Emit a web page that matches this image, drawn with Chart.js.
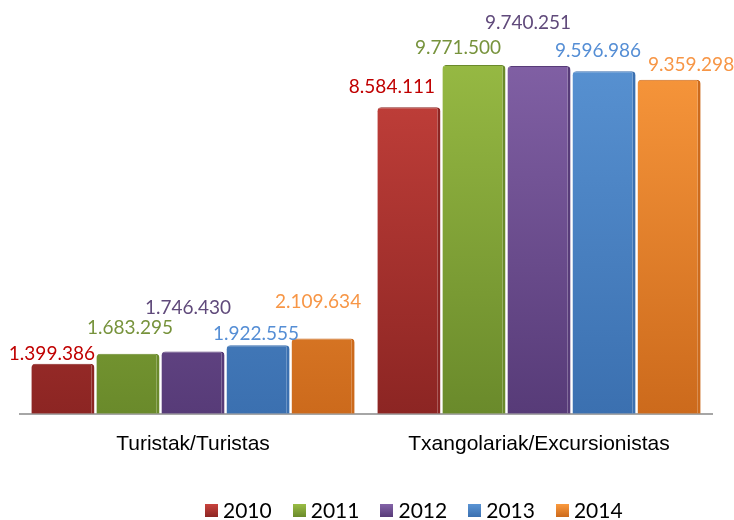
<!DOCTYPE html>
<html>
<head>
<meta charset="utf-8">
<script src="https://cdn.jsdelivr.net/npm/chart.js@4.4.1/dist/chart.umd.min.js"></script>
<style>
  html, body { margin: 0; padding: 0; background: #fff; }
  #wrap { position: relative; width: 734px; height: 520px; overflow: hidden; }
  #legend {
    position: absolute; left: 205px; top: 497px;
    font-family: Lato, "Liberation Sans", sans-serif; font-size: 21px; color: #000;
    display: flex; gap: 21px; align-items: center; line-height: 26px;
  }
  #legend span.item { display: flex; align-items: center; }
  #legend span.box { width: 13px; height: 13px; margin-right: 5px; display: inline-block; }
</style>
</head>
<body>
<div id="wrap">
  <canvas id="chart" width="734" height="520"></canvas>
  <div id="legend"></div>
</div>
<script>
// Data
// ====
const categories = ['Turistak/Turistas', 'Txangolariak/Excursionistas'];
const years = ['2010', '2011', '2012', '2013', '2014'];
const values2010 = [1399386, 8584111];
const values2011 = [1683295, 9771500];
const values2012 = [1746430, 9740251];
const values2013 = [1922555, 9596986];
const values2014 = [2109634, 9359298];

const seriesValues = [values2010, values2011, values2012, values2013, values2014];

// colours: [light top, dark bottom, label]
const palette = [
    ['#c9433d', '#8c2523', '#c00000'],
    ['#9abd45', '#6a8a2b', '#77933c'],
    ['#8463a8', '#573b78', '#604a7b'],
    ['#5a94d4', '#3b70b0', '#558ed5'],
    ['#fb9a3e', '#cc6a1c', '#f79646']
];

// label offsets relative to bar top (per dataset, per category) - Excel staggered them
const labelOffsets = [
    [[-11, -10], [-17, -20]],
    [[2, -26], [-16, -17]],
    [[-5, -44], [-11, -43]],
    [[-2, -11], [-6, -20]],
    [[-5, -37], [22, -15]]
];

function formatNumber(v) {
    return String(v).replace(/\B(?=(\d{3})+(?!\d))/g, '.');
}

function barGradient(ctx, i) {
    const chart = ctx.chart;
    const area = chart.chartArea;
    if (!area) return palette[i][0];
    const g = chart.ctx.createLinearGradient(0, area.top, 0, area.bottom);
    g.addColorStop(0, palette[i][0]);
    g.addColorStop(1, palette[i][1]);
    return g;
}

const datasets = seriesValues.map((vals, i) => ({
    label: years[i],
    data: vals,
    backgroundColor: ctx => barGradient(ctx, i),
    borderColor: palette[i][1],
    borderWidth: { top: 1, left: 0, right: 3, bottom: 0 },
    borderRadius: 4,
    borderSkipped: 'bottom',
    barPercentage: 0.97,
    categoryPercentage: 0.94
}));

// draws the value labels above each bar
const valueLabels = {
    id: 'valueLabels',
    afterDatasetsDraw(chart) {
        const c = chart.ctx;
        c.save();
        c.font = '19px Lato, "Liberation Sans", sans-serif';
        c.textAlign = 'center';
        c.textBaseline = 'middle';
        chart.data.datasets.forEach((ds, i) => {
            const meta = chart.getDatasetMeta(i);
            meta.data.forEach((bar, j) => {
                const off = labelOffsets[i][j];
                c.fillStyle = palette[i][2];
                c.fillText(formatNumber(ds.data[j]), bar.x + off[0], bar.y + off[1]);
            });
        });
        c.restore();
    }
};

const chart = new Chart(document.getElementById('chart'), {
    type: 'bar',
    data: { labels: categories, datasets: datasets },
    options: {
        responsive: false,
        animation: false,
        layout: { padding: { left: 20, right: 22, top: 30, bottom: 45 } },
        plugins: {
            legend: { display: false },
            tooltip: { enabled: false }
        },
        scales: {
            y: {
                display: false,
                beginAtZero: true,
                max: 10750000
            },
            x: {
                grid: { display: false, drawTicks: false },
                border: { display: true, color: '#a6a6a6', width: 2 },
                ticks: {
                    color: '#000',
                    padding: 18,
                    font: { family: '"Liberation Sans", Arial, sans-serif', size: 21 }
                }
            }
        }
    },
    plugins: [valueLabels]
});

// HTML legend
const legend = document.getElementById('legend');
years.forEach((y, i) => {
    const item = document.createElement('span');
    item.className = 'item';
    item.innerHTML = '<span class="box" style="background:linear-gradient(' +
        palette[i][0] + ',' + palette[i][1] + ')"></span>' + y;
    legend.appendChild(item);
});
</script>
</body>
</html>
